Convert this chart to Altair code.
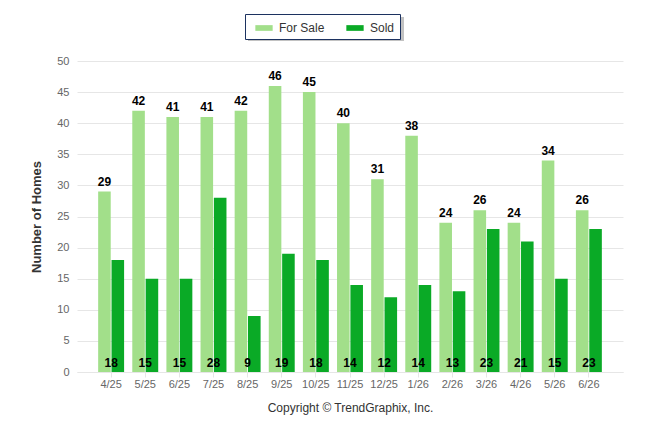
import pandas as pd
import altair as alt

months = ["4/25", "5/25", "6/25", "7/25", "8/25", "9/25", "10/25", "11/25",
          "12/25", "1/26", "2/26", "3/26", "4/26", "5/26", "6/26"]
for_sale = [29, 42, 41, 41, 42, 46, 45, 40, 31, 38, 24, 26, 24, 34, 26]
sold = [18, 15, 15, 28, 9, 19, 18, 14, 12, 14, 13, 23, 21, 15, 23]
series = ["For Sale", "Sold"]
colors = ["#a2df8a", "#0aaa26"]
y_ticks = [0, 5, 10, 15, 20, 25, 30, 35, 40, 45, 50]

rows = []
for m, a, b in zip(months, for_sale, sold):
    rows.append({"month": m, "series": "For Sale", "homes": a})
    rows.append({"month": m, "series": "Sold", "homes": b})
data = pd.DataFrame(rows)

FONT = "Liberation Sans"

x_enc = alt.X("month:N", sort=months,
              scale=alt.Scale(paddingInner=0.24, paddingOuter=0.62),
              axis=alt.Axis(title="Copyright \u00a9 TrendGraphix, Inc.", labelAngle=0,
                            labelColor="#666666", labelFontSize=11, labelFont=FONT,
                            domainColor="#e6e6e6", tickColor="#e6e6e6", tickSize=5,
                            labelPadding=1, titleFont=FONT, titleFontSize=12,
                            titleFontWeight="normal", titleColor="#333333",
                            titlePadding=13))
x_off = alt.XOffset("series:N", sort=series, scale=alt.Scale(paddingInner=0.06))

y_scale = alt.Scale(domain=[0, 50], nice=False)
y_axis = alt.Axis(title="Number of Homes", values=y_ticks,
                  labelOverlap=False, domain=False, ticks=False,
                  gridColor="#e6e6e6",
                  labelColor="#666666", labelFontSize=11, labelFont=FONT,
                  labelPadding=8, titleFont=FONT, titleFontSize=13,
                  titleFontWeight="bold", titleColor="#333333",
                  titlePadding=13)
y_enc = alt.Y("homes:Q", scale=y_scale, axis=y_axis)

base = alt.Chart(data)

# soft shadow under the legend box
shadow = alt.Chart(pd.DataFrame({"k": [0]})).mark_rect(
    color="#999999", opacity=0.6, clip=False
).encode(x=alt.value(171), x2=alt.value(327), y=alt.value(-44), y2=alt.value(-20))

bars = base.mark_bar().encode(
    x=x_enc,
    xOffset=x_off,
    y=y_enc,
    color=alt.Color("series:N", sort=series,
                    scale=alt.Scale(domain=series, range=colors),
                    legend=alt.Legend(title=None, orient="none", direction="horizontal",
                                      legendX=168, legendY=-47, padding=5,
                                      symbolOffset=5, columnPadding=16,
                                      strokeColor="#1c3260", fillColor="#ffffff",
                                      symbolType="M-1,-0.33L1,-0.33L1,0.33L-1,0.33Z",
                                      symbolSize=300, symbolStrokeWidth=0,
                                      labelFont=FONT, labelFontSize=12,
                                      labelColor="#333333", labelOffset=6)),
)

top_labels = base.transform_filter(alt.datum.series == "For Sale").mark_text(
    baseline="bottom", dy=-3, font=FONT, fontSize=12, fontWeight="bold", color="#000000"
).encode(x=alt.X("month:N", sort=months), xOffset=x_off, y=y_enc, text="homes:Q")

bottom_labels = base.transform_filter(alt.datum.series == "Sold").mark_text(
    baseline="bottom", dy=-2, font=FONT, fontSize=12, fontWeight="bold", color="#000000"
).encode(x=alt.X("month:N", sort=months),
         y=alt.Y(datum=0, scale=y_scale, axis=y_axis), text="homes:Q")

chart = alt.layer(shadow, bars, top_labels, bottom_labels).properties(
    width=546,
    height=311,
    autosize=alt.AutoSizeParams(type="none"),
    padding={"left": 69, "top": 53, "right": 15, "bottom": 50},
).configure_view(stroke=None)

chart.save("out.html", embed_options={"renderer": "svg", "actions": False})
